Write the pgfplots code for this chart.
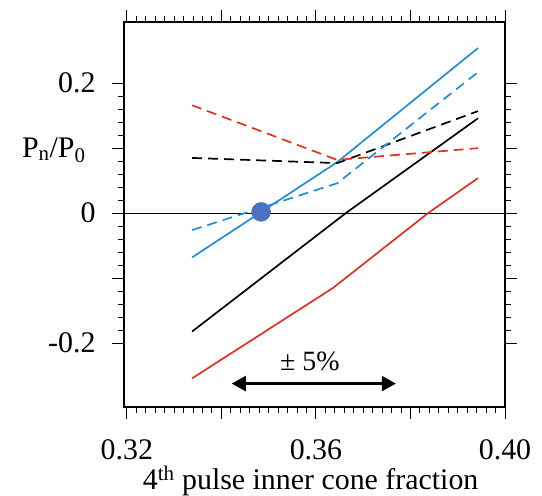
\documentclass[border=0pt]{standalone}
\usepackage{fontspec}
\setmainfont{Liberation Serif}
\usepackage{pgfplots}
\pgfplotsset{compat=1.18}
\usetikzlibrary{arrows.meta}
\definecolor{cblue}{HTML}{1E8FD5}
\definecolor{cred}{HTML}{E0301E}
\definecolor{cdot}{HTML}{4A72C0}
\begin{document}
\begin{tikzpicture}
\begin{axis}[
  scale only axis, width=381bp, height=385bp,
  xmin=0.3194, xmax=0.4, ymin=-0.298, ymax=0.294,
  axis line style={line width=2pt},
  tick align=outside,
  xtick={0.32,0.34,0.36,0.38,0.40},
  xticklabels={0.32,,0.36,,0.40},
  ytick={-0.2,-0.1,0,0.1,0.2},
  yticklabels={-0.2,,0,,0.2},
  minor x tick num=9, minor y tick num=4,
  major tick length=12bp, minor tick length=6bp,
  tick style={black, line width=0.9pt},
  ticklabel style={font=\fontsize{30}{32}\selectfont},
  xticklabel style={yshift=-17bp},
  yticklabel style={xshift=-13bp},
  clip=false,
]
\coordinate (O) at (rel axis cs:0,0);
\addplot[black, line width=0.9pt] coordinates {(0.3194,0) (0.4,0)};
% solid lines
\addplot[black, line width=1.7pt] coordinates {(0.3338,-0.182) (0.3663,0) (0.3943,0.146)};
\addplot[cred, line width=1.7pt] coordinates {(0.3338,-0.254) (0.3636,-0.115) (0.3837,0) (0.3943,0.054)};
\addplot[cblue, line width=1.7pt] coordinates {(0.3338,-0.068) (0.3644,0.078) (0.3943,0.254)};
% dashed lines
\addplot[black, line width=1.7pt, dash pattern=on 10bp off 6bp] coordinates {(0.3338,0.085) (0.3645,0.077) (0.3943,0.157)};
\addplot[cred, line width=1.7pt, dash pattern=on 10bp off 6bp] coordinates {(0.3338,0.166) (0.3645,0.082) (0.3943,0.100)};
\addplot[cblue, line width=1.7pt, dash pattern=on 10bp off 6bp] coordinates {(0.3338,-0.026) (0.3645,0.046) (0.3943,0.217)};
% dot
\addplot[only marks, mark=*, mark size=9.5bp, draw=cdot, fill=cdot] coordinates {(0.3484,0.002)};
% arrow
\addplot[black, line width=2.6bp, {Triangle[length=14bp,width=15bp]}-{Triangle[length=14bp,width=15bp]}] coordinates {(0.3422,-0.262) (0.3769,-0.262)};
\node[anchor=base, font=\fontsize{28}{30}\selectfont] at (axis cs:0.3587,-0.2415) {± 5\%};
\node[anchor=base east, font=\fontsize{30}{32}\selectfont] at ([xshift=-35bp]axis cs:0.3194,0.086) {P\textsubscript{n}/P\textsubscript{0}};
\node[anchor=base, font=\fontsize{30}{32}\selectfont] at ([yshift=-82bp]rel axis cs:0.49,0) {4\textsuperscript{th} pulse inner cone fraction};
\end{axis}
\pgfresetboundingbox
\path[use as bounding box] ([xshift=-124bp,yshift=-89bp]O) rectangle ++(542bp,496bp);
\end{tikzpicture}
\end{document}
